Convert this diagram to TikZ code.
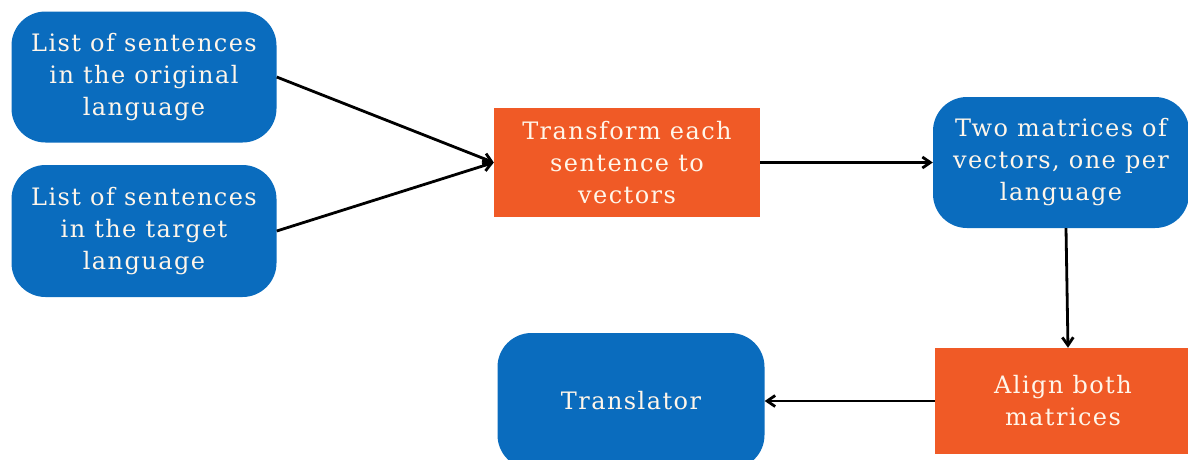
\documentclass[tikz,border=0pt]{standalone}
\usepackage{fontspec}
\setmainfont[LetterSpace=6]{DejaVu Serif}
\usetikzlibrary{arrows.meta,calc}
\definecolor{boxblue}{HTML}{0A6CBE}
\definecolor{boxorange}{HTML}{F05A26}
\definecolor{boxtext}{HTML}{FFF6EA}
\tikzset{
  base/.style={text=boxtext, align=center, font=\fontsize{24}{32}\selectfont, inner sep=0pt},
  roundbox/.style={base, fill=boxblue, rounded corners=34pt},
  flatbox/.style={base, fill=boxorange},
  link/.style={line width=2.8pt, -{Straight Barb[length=8pt,width=11pt]}, black}
}
\begin{document}
\begin{tikzpicture}[x=1pt,y=-1pt]
  \useasboundingbox (0,0) rectangle (1188,459);
  \clip (0,0) rectangle (1188,459);
  % input lists
  \node[roundbox, minimum width=265pt, minimum height=131pt] (orig) at (144,77)
    {List of sentences\\in the original\\language};
  \node[roundbox, minimum width=265pt, minimum height=132pt] (targ) at (144,231)
    {List of sentences\\in the target\\language};
  % processing steps
  \node[flatbox, minimum width=266pt, minimum height=109pt] (trans) at (627,162.5)
    {Transform each\\sentence to\\vectors};
  \node[roundbox, minimum width=256pt, minimum height=131pt] (mats) at (1061,162.5)
    {Two matrices of\\vectors, one per\\language};
  \node[flatbox, minimum width=256pt, minimum height=106pt] (align) at (1063,401)
    {Align both\\matrices};
  \node[roundbox, minimum width=267pt, minimum height=136pt] (tool) at (631,401)
    {Translator};
  % connectors
  \coordinate (in) at (trans.west);
  \draw[link] (orig.east) -- (in);
  \draw[link] (targ.east) -- (in);
  \draw[link] (trans.east) -- (mats.west);
  \draw[link] ($(mats.south)+(5,0)$) -- ($(align.north)+(5,0)$);
  \draw[link] (align.west) -- (tool.east);
\end{tikzpicture}
\end{document}
